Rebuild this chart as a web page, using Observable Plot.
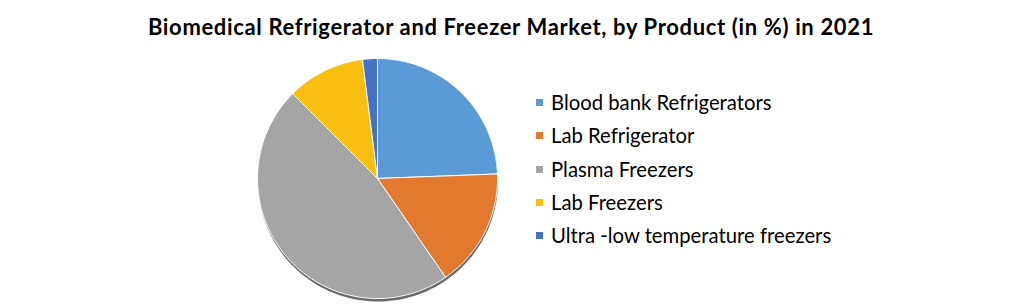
<!DOCTYPE html>
<html>
<head>
<meta charset="utf-8">
<script src="https://cdn.jsdelivr.net/npm/d3@7"></script>
<script src="https://cdn.jsdelivr.net/npm/@observablehq/plot@0.6"></script>
<style>
  html, body { margin: 0; padding: 0; background: #fff; }
  #wrap { position: relative; width: 1022px; height: 305px; overflow: hidden; font-family: Lato, "Open Sans", sans-serif; color: #000; }
  #title { position: absolute; left: 0; width: 1022px; top: 13px; text-align: center; font-weight: bold; font-size: 22px; letter-spacing: 0.65px; white-space: nowrap; }
  #pie { position: absolute; left: 252px; top: 53px; }
  .leg { position: absolute; left: 536px; white-space: nowrap; font-size: 20.3px; line-height: 24px; }
  .leg span.sw { display: inline-block; width: 7px; height: 7px; margin-right: 8px; vertical-align: middle; position: relative; top: -2px; }
</style>
</head>
<body>
<div id="wrap">
  <div id="title"></div>
  <div id="pie"></div>
</div>
<script>
const title = "Biomedical Refrigerator and Freezer Market, by Product (in %) in 2021";
const products = ["Blood bank Refrigerators", "Lab Refrigerator", "Plasma Freezers", "Lab Freezers", "Ultra -low temperature freezers"];
const shares = [24.4, 16.0, 47.1, 10.5, 2.0];
const colors = ["#5b9bd5", "#e2792f", "#a5a5a5", "#f8bf10", "#4472c4"];

document.getElementById("title").textContent = title;

// Build slice polygons (unit circle, starting at 12 o'clock, clockwise)
const total = d3.sum(shares);
const rows = [];
let acc = 0;
products.forEach((p, i) => {
  const a0 = acc / total * 2 * Math.PI;
  acc += shares[i];
  const a1 = acc / total * 2 * Math.PI;
  const n = Math.max(2, Math.ceil((a1 - a0) / (Math.PI / 180)));
  rows.push({product: p, x: 0, y: 0});
  for (let k = 0; k <= n; k++) {
    const a = a0 + (a1 - a0) * k / n;
    rows.push({product: p, x: Math.sin(a), y: Math.cos(a)});
  }
  rows.push({product: p, x: 0, y: 0});
});
const shadow = d3.range(0, 361, 2).map(d => ({x: Math.sin(d * Math.PI / 180), y: Math.cos(d * Math.PI / 180)}));

const chart = Plot.plot({
  width: 250,
  height: 250,
  margin: 5,
  x: {domain: [-1, 1], axis: null},
  y: {domain: [-1, 1], axis: null},
  color: {domain: products, range: colors},
  marks: [
    Plot.line(shadow, {x: "x", y: "y", fill: "#3a3a3a", fillOpacity: 0.75, stroke: "none", dy: 3, dx: 0.5}),
    Plot.line(rows, {x: "x", y: "y", z: "product", fill: "product", stroke: "white", strokeWidth: 1, strokeLinejoin: "round"})
  ]
});
document.getElementById("pie").appendChild(chart);

const wrap = document.getElementById("wrap");
const rowTops = [90, 123, 157, 190, 223];
products.forEach((p, i) => {
  const d = document.createElement("div");
  d.className = "leg";
  d.style.top = rowTops[i] + "px";
  const s = document.createElement("span");
  s.className = "sw";
  s.style.background = colors[i];
  d.appendChild(s);
  d.appendChild(document.createTextNode(p));
  wrap.appendChild(d);
});
</script>
</body>
</html>
